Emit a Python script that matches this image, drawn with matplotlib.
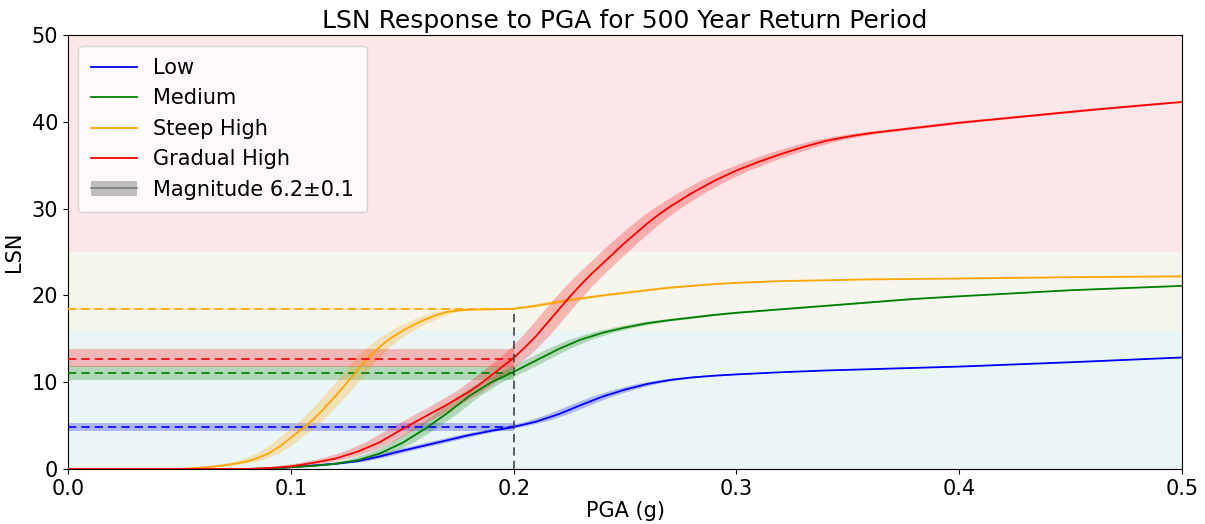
import numpy as np
import matplotlib
matplotlib.use("Agg")
import matplotlib.pyplot as plt
from matplotlib.patches import Polygon, Patch
from matplotlib.lines import Line2D

# PGA (g) and LSN values for each susceptibility curve
pga_low = [0, 0.08, 0.09, 0.10, 0.11, 0.12, 0.13, 0.14, 0.15, 0.16, 0.17, 0.18,
           0.19, 0.20, 0.21, 0.22, 0.23, 0.24, 0.25, 0.26, 0.27, 0.28, 0.29, 0.30,
           0.32, 0.34, 0.36, 0.38, 0.40, 0.45, 0.50]
lsn_low = [0, 0, 0.05, 0.2, 0.4, 0.6, 0.9, 1.45, 2.1, 2.7, 3.3, 3.9,
           4.4, 4.85, 5.45, 6.3, 7.35, 8.35, 9.15, 9.8, 10.25, 10.55, 10.75, 10.9,
           11.15, 11.35, 11.5, 11.65, 11.8, 12.3, 12.85]

pga_medium = [0, 0.08, 0.09, 0.10, 0.11, 0.12, 0.13, 0.14, 0.145, 0.15, 0.155, 0.16,
              0.165, 0.17, 0.175, 0.18, 0.185, 0.19, 0.195, 0.20, 0.21, 0.22, 0.23, 0.24,
              0.25, 0.26, 0.27, 0.28, 0.29, 0.30, 0.32, 0.34, 0.36, 0.38, 0.40, 0.45, 0.50]
lsn_medium = [0, 0, 0.05, 0.2, 0.35, 0.6, 1.0, 1.8, 2.4, 3.0, 3.8, 4.6,
              5.5, 6.4, 7.4, 8.4, 9.2, 10.0, 10.6, 11.2, 12.5, 13.8, 14.9, 15.7,
              16.3, 16.8, 17.15, 17.45, 17.75, 18.0, 18.4, 18.8, 19.2, 19.6, 19.9, 20.6, 21.1]

pga_steep = [0, 0.05, 0.06, 0.07, 0.08, 0.085, 0.09, 0.095, 0.10, 0.105, 0.11, 0.115,
             0.12, 0.125, 0.13, 0.135, 0.14, 0.145, 0.15, 0.155, 0.16, 0.165, 0.17, 0.175,
             0.18, 0.19, 0.20, 0.21, 0.22, 0.23, 0.24, 0.25, 0.26, 0.27, 0.28, 0.29,
             0.30, 0.32, 0.34, 0.36, 0.38, 0.40, 0.45, 0.50]
lsn_steep = [0, 0, 0.15, 0.4, 0.85, 1.25, 1.8, 2.6, 3.6, 4.6, 5.7, 7.0,
             8.4, 9.9, 11.4, 12.9, 14.1, 15.1, 15.9, 16.6, 17.2, 17.7, 18.1, 18.25,
             18.35, 18.4, 18.45, 18.8, 19.25, 19.65, 20.0, 20.3, 20.6, 20.9, 21.1, 21.3,
             21.45, 21.65, 21.75, 21.85, 21.9, 21.95, 22.1, 22.2]

pga_gradual = [0, 0.08, 0.09, 0.10, 0.11, 0.12, 0.13, 0.14, 0.15, 0.16, 0.17, 0.18,
               0.185, 0.19, 0.195, 0.20, 0.205, 0.21, 0.215, 0.22, 0.225, 0.23, 0.235, 0.24,
               0.245, 0.25, 0.255, 0.26, 0.265, 0.27, 0.28, 0.29, 0.30, 0.31, 0.32, 0.33,
               0.34, 0.35, 0.36, 0.38, 0.40, 0.42, 0.44, 0.46, 0.48, 0.50]
lsn_gradual = [0, 0, 0.1, 0.3, 0.7, 1.2, 2.0, 3.1, 4.6, 6.0, 7.4, 8.9,
               9.8, 10.8, 11.8, 12.8, 14.0, 15.3, 16.8, 18.3, 19.8, 21.2, 22.5, 23.7,
               24.9, 26.1, 27.2, 28.3, 29.3, 30.2, 31.8, 33.2, 34.4, 35.4, 36.3, 37.1,
               37.8, 38.3, 38.7, 39.3, 39.9, 40.4, 40.9, 41.4, 41.85, 42.3]

series_names = ["Low", "Medium", "Steep High", "Gradual High"]
series_colors = ["blue", "green", "orange", "red"]
series_pga = [pga_low, pga_medium, pga_steep, pga_gradual]
series_lsn = [lsn_low, lsn_medium, lsn_steep, lsn_gradual]
# PGA shift equivalent to the +/-0.1 magnitude uncertainty
mag_pga_shift = [0.0045, 0.005, 0.005, 0.006]

# LSN at PGA = 0.2 g (500-yr) and its magnitude band
design_pga = 0.2
lsn_at_design = [4.85, 11.1, 18.45, 12.65]
lsn_at_design_lo = [4.4, 10.25, 18.3, 11.75]
lsn_at_design_hi = [5.25, 11.9, 18.6, 13.85]

# Severity zones
zone_edges = [0, 16, 25, 50]
zone_colors = ["#eaf5f6", "#f6f6ee", "#fce6e8"]

fig = plt.figure(figsize=(12.05, 5.24), dpi=100)
ax = fig.add_axes([0.0565, 0.105, 0.9245, 0.828])

for lo, hi, c in zip(zone_edges[:-1], zone_edges[1:], zone_colors):
    ax.axhspan(lo, hi, color=c, zorder=0, lw=0)

for name, col, xs, vals, sh, yd, ylo, yhi in zip(series_names, series_colors, series_pga,
                                                series_lsn, mag_pga_shift, lsn_at_design,
                                                lsn_at_design_lo, lsn_at_design_hi):
    x = np.array(xs)
    y = np.array(vals)
    verts = np.vstack([np.column_stack([x - sh, y]),
                       np.column_stack([(x + sh)[::-1], y[::-1]])])
    ax.add_patch(Polygon(verts, closed=True, facecolor=col, alpha=0.25,
                         edgecolor="none", zorder=2))
    ax.plot(x, y, color=col, lw=1.3, zorder=3)
    ax.fill_between([0, design_pga], [ylo, ylo], [yhi, yhi], color=col,
                    alpha=0.25, lw=0, zorder=2)
    ax.plot([0, design_pga], [yd, yd], color=col, lw=1.2, ls=(0, (5, 3)), zorder=3)

ax.plot([design_pga, design_pga], [0, max(lsn_at_design)], color="#444444",
        lw=1.2, ls=(0, (5, 3)), zorder=4)

ax.set_xlim(0, 0.5)
ax.set_ylim(0, 50)
ax.set_xticks([0.0, 0.1, 0.2, 0.3, 0.4, 0.5])
ax.set_yticks([0, 10, 20, 30, 40, 50])
ax.tick_params(labelsize=15)
ax.set_xlabel("PGA (g)", fontsize=15, labelpad=2)
ax.set_ylabel("LSN", fontsize=15, labelpad=6)
ax.set_title("LSN Response to PGA for 500 Year Return Period", fontsize=18, pad=5)

handles = [Line2D([], [], color=c, lw=1.3) for c in series_colors]
handles.append((Patch(facecolor="gray", alpha=0.5, edgecolor="none"),
                Line2D([], [], color="gray", lw=1.3)))
labels = series_names + ["Magnitude 6.2\u00b10.1"]
ax.legend(handles, labels, loc="upper left", fontsize=15, framealpha=0.8,
          handlelength=2.2, borderpad=0.6, labelspacing=0.5)

fig.savefig("out.png", dpi=100)
